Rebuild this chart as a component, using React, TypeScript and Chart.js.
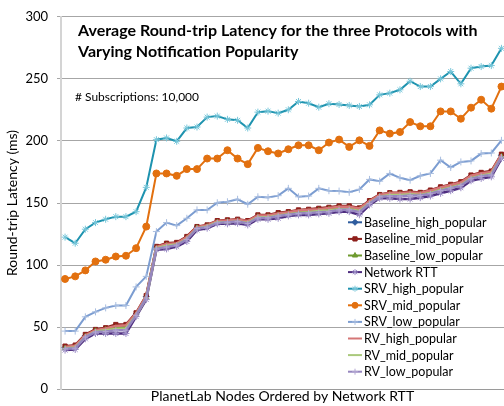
import React, { useEffect, useRef } from 'react';
import { Chart, registerables } from 'chart.js';
import { drawPoint } from 'chart.js/helpers';

Chart.register(...registerables);

const nodes = [1, 2, 3, 4, 5, 6, 7, 8, 9, 10, 11, 12, 13, 14, 15, 16, 17, 18, 19, 20, 21, 22, 23, 24, 25, 26, 27, 28, 29, 30, 31, 32, 33, 34, 35, 36, 37, 38, 39, 40, 41, 42, 43, 44];

const baselineHigh = [33.5, 34.5, 43, 47.5, 48.5, 50.5, 51, 60.5, 74.5, 114, 116.5, 117.5, 122, 130.5, 131.5, 135, 135.5, 136, 135, 139.5, 139.5, 141, 142, 143.5, 144, 145, 145.5, 146.5, 146.5, 145, 151, 156, 157.5, 157.5, 158, 158, 159.5, 162, 164, 166, 171.5, 173.5, 174.5, 188.5];
const baselineMid = [34.7, 35.5, 44.1, 48.1, 49.5, 52.1, 52.1, 61.5, 75.4, 115, 117.6, 118.2, 123, 131, 132.3, 135.8, 136.4, 136.9, 135.8, 140.4, 140.4, 142.2, 143, 144.4, 144.9, 145.7, 146.5, 147.6, 147.6, 146, 151.9, 156.8, 158.3, 158.5, 159, 158.5, 160.4, 163, 165, 167.1, 172.5, 174.6, 175.7, 189.3];
const baselineLow = [33, 34, 42.5, 47, 48, 49.5, 50, 60, 74, 113.5, 116, 116, 121.5, 130, 131, 134.5, 135, 135.5, 134, 139, 139, 140.5, 141.5, 142.5, 143, 144, 145, 146, 146, 144.5, 150.5, 155.5, 157, 157, 157.5, 157, 158.5, 161, 163, 165, 170.5, 172.5, 174, 187.5];
const networkRtt = [31.5, 32, 40.6, 44.9, 44.9, 44.9, 44.9, 58.5, 72.2, 112.3, 113, 115, 119, 128.3, 129.7, 133.2, 133.2, 133.7, 132.3, 136.9, 136.9, 137.7, 139.6, 140.4, 140.4, 141.2, 141.7, 143, 143, 140.5, 148.4, 153.8, 153.8, 153.2, 153.2, 154.3, 155.6, 157.8, 159.9, 162.3, 167.9, 169.8, 171.1, 185.8];
const srvHigh = [122.5, 117.6, 128.9, 134.2, 136.9, 139, 139, 143, 162.6, 201, 202.4, 199.7, 210.4, 211.2, 219.2, 220, 217.4, 216.6, 210.4, 223.2, 224, 222.4, 225.1, 231.8, 230.4, 227.2, 230, 229.4, 228.6, 227.8, 229.1, 237.1, 238.5, 241.2, 248.1, 243.8, 243.8, 250, 255.9, 246, 258.6, 259.9, 260.7, 274.6];
const srvMid = [88.8, 90.9, 95.7, 102.9, 104.3, 106.9, 107.5, 113.6, 131, 173.8, 173.8, 171.9, 177.3, 177.3, 185.8, 185.8, 192.5, 185.8, 181.3, 194.4, 191.7, 189.9, 193.3, 196.5, 196.5, 192.5, 198.7, 201.1, 195.2, 200.5, 196, 208.5, 205.9, 207.2, 215.2, 211.8, 211.8, 223.8, 223.8, 217.9, 226.8, 233.2, 226, 243.8];
const srvLow = [46.8, 46.8, 58.3, 62.3, 65.5, 67.4, 67.4, 82.4, 90.9, 127, 134.2, 131.8, 137.7, 144.4, 144.4, 150.2, 151, 153, 149, 155, 154.5, 155.9, 161.8, 155, 155.6, 161.8, 159.9, 159.6, 158.6, 161, 169, 167.6, 173.8, 170.3, 168.4, 171.9, 173.8, 184.5, 178.6, 183.1, 183.9, 189.8, 190.3, 200.5];
const rvHigh = [34, 35, 43.5, 47.5, 49, 51, 51.5, 61, 75, 114.5, 117, 117.5, 122.5, 130.5, 132, 135.5, 136, 136.5, 135.5, 140, 140, 141.5, 142.5, 144, 144.5, 145, 146, 147, 147, 145.5, 151.5, 156.5, 158, 158, 158.5, 158, 160, 162.5, 164.5, 166.5, 172, 174, 175, 189];
const rvMid = [33, 33.5, 42, 46.5, 47.5, 48.5, 49, 59.5, 73.5, 113.5, 115.5, 116.5, 121, 129.5, 131, 134.5, 134.5, 135, 134, 138.5, 138.5, 140, 141, 142, 142.5, 143.5, 144, 145, 145, 143.5, 150, 155, 156.5, 156.5, 157, 156.5, 158, 160.5, 162.5, 164.5, 170, 172, 173.5, 187];
const rvLow = [32.5, 33, 42, 46, 46.5, 47.5, 47.5, 59.5, 73.5, 113, 114.5, 116, 120.5, 129.5, 130.5, 134, 134.5, 135, 133.5, 138, 138, 139.5, 140.5, 141.5, 142, 142.5, 143, 144.5, 144.5, 142.5, 149.5, 155, 155.5, 155.5, 156, 156, 157.5, 160, 162, 164, 169.5, 171.5, 172.5, 187];

const seriesNames = ['Baseline_high_popular', 'Baseline_mid_popular', 'Baseline_low_popular', 'Network RTT', 'SRV_high_popular', 'SRV_mid_popular', 'SRV_low_popular', 'RV_high_popular', 'RV_mid_popular', 'RV_low_popular'];
const seriesValues = [baselineHigh, baselineMid, baselineLow, networkRtt, srvHigh, srvMid, srvLow, rvHigh, rvMid, rvLow];

const titleLines = ['Average Round-trip Latency for the three Protocols with', 'Varying Notification Popularity'];
const subtitle = '# Subscriptions: 10,000';
const xTitle = 'PlanetLab Nodes Ordered by Network RTT';
const yTitle = 'Round-trip Latency (ms)';
const yMin = 0;
const yMax = 300;
const yStep = 50;

const FONT = 'Lato, "Open Sans", "DejaVu Sans", sans-serif';

type Style = { color: string; point: any; pointColor: string; radius: number; width: number };
const styles: Style[] = [
  { color: '#2E5C9E', point: 'rectRot', pointColor: '#2E5C9E', radius: 3, width: 2.5 },
  { color: '#8E1F1B', point: 'rect', pointColor: '#8E1F1B', radius: 3, width: 2.5 },
  { color: '#6E9A2F', point: 'triangle', pointColor: '#6E9A2F', radius: 3, width: 2.5 },
  { color: '#4E2D7F', point: 'star', pointColor: '#9B8CC6', radius: 3.5, width: 2.5 },
  { color: '#1E93AF', point: 'star', pointColor: '#79C7DA', radius: 3.5, width: 2 },
  { color: '#E2700F', point: 'circle', pointColor: '#E2700F', radius: 3.5, width: 2 },
  { color: '#7C9DD1', point: 'cross', pointColor: '#A9BEE0', radius: 3.5, width: 2 },
  { color: '#D57676', point: false, pointColor: '#D57676', radius: 0, width: 2.5 },
  { color: '#AAC97C', point: false, pointColor: '#AAC97C', radius: 0, width: 2.5 },
  { color: '#9686BF', point: 'cross', pointColor: '#B2A6D2', radius: 3, width: 2.5 },
];

const overlayPlugin = {
  id: 'overlayText',
  afterDraw(chart: any) {
    const ctx = chart.ctx as CanvasRenderingContext2D;
    ctx.save();
    ctx.fillStyle = '#000';
    ctx.textAlign = 'left';
    ctx.textBaseline = 'alphabetic';
    ctx.font = `bold 16px ${FONT}`;
    const w1 = ctx.measureText(titleLines[0]).width;
    const sx = Math.min(1, 411 / w1);
    ctx.save();
    ctx.translate(78, 0);
    ctx.scale(sx, 1);
    ctx.fillText(titleLines[0], 0, 36);
    ctx.fillText(titleLines[1], 0, 56.5);
    ctx.restore();
    ctx.font = `12px ${FONT}`;
    ctx.fillText(subtitle, 75, 101, 124);
    const lx = 348;
    const y0 = 222.3;
    const step = 16.6;
    seriesNames.forEach((name, i) => {
      const st = styles[i];
      const y = y0 + step * i;
      ctx.strokeStyle = st.color;
      ctx.lineWidth = 2;
      ctx.beginPath();
      ctx.moveTo(lx, y);
      ctx.lineTo(lx + 14, y);
      ctx.stroke();
      if (st.point) {
        ctx.fillStyle = st.pointColor;
        ctx.strokeStyle = st.pointColor;
        ctx.lineWidth = 1;
        drawPoint(ctx, { pointStyle: st.point, radius: 3, rotation: 0, borderWidth: 1 }, lx + 7, y);
      }
      ctx.fillStyle = '#000';
      ctx.font = `12.5px ${FONT}`;
      ctx.textBaseline = 'middle';
      ctx.fillText(name, lx + 16, y + 0.5);
    });
    ctx.restore();
  },
};

export default function App() {
  const ref = useRef<HTMLCanvasElement | null>(null);
  useEffect(() => {
    if (!ref.current) return;
    const datasets = seriesNames.map((name, i) => {
      const st = styles[i];
      return {
        label: name,
        data: seriesValues[i].map((v, j) => ({ x: nodes[j], y: v })),
        borderColor: st.color,
        backgroundColor: st.pointColor,
        borderWidth: st.width,
        pointStyle: st.point,
        pointRadius: st.radius,
        pointBorderColor: st.pointColor,
        pointBackgroundColor: st.pointColor,
        pointBorderWidth: 1,
        tension: 0,
        order: 10 - i,
      };
    });
    const chart = new Chart(ref.current, {
      type: 'line',
      data: { datasets },
      options: {
        animation: false,
        responsive: false,
        maintainAspectRatio: false,
        layout: { autoPadding: false, padding: { top: 16, right: 0, bottom: 0, left: 0 } },
        plugins: { legend: { display: false }, tooltip: { enabled: false }, title: { display: false } },
        scales: {
          x: {
            type: 'linear',
            min: 0.6,
            max: 44.25,
            ticks: { display: false },
            grid: { display: false },
            border: { display: true, color: '#9a9a9a', width: 1 },
            title: { display: true, text: xTitle, color: '#000', font: { family: FONT, size: 14 }, padding: { top: 0, bottom: 0 } },
            afterFit(s: any) { s.height = 16; },
          },
          y: {
            min: yMin,
            max: yMax,
            ticks: { stepSize: yStep, color: '#000', font: { family: FONT, size: 13 }, padding: 9 },
            grid: { color: '#a6a6a6', lineWidth: 1, drawTicks: true, tickLength: 4 },
            border: { display: true, color: '#d4d4d4', width: 2 },
            title: { display: true, text: yTitle, color: '#000', font: { family: FONT, size: 14 }, padding: { top: 4, bottom: 0 } },
            afterFit(s: any) { s.width = 61; },
          },
        },
      },
      plugins: [overlayPlugin],
    } as any);
    return () => chart.destroy();
  }, []);
  return (
    <div style={{ position: 'fixed', left: 0, top: 0, width: 504, height: 406, background: '#fff' }}>
      <canvas ref={ref} width={504} height={406} style={{ display: 'block' }} />
    </div>
  );
}
